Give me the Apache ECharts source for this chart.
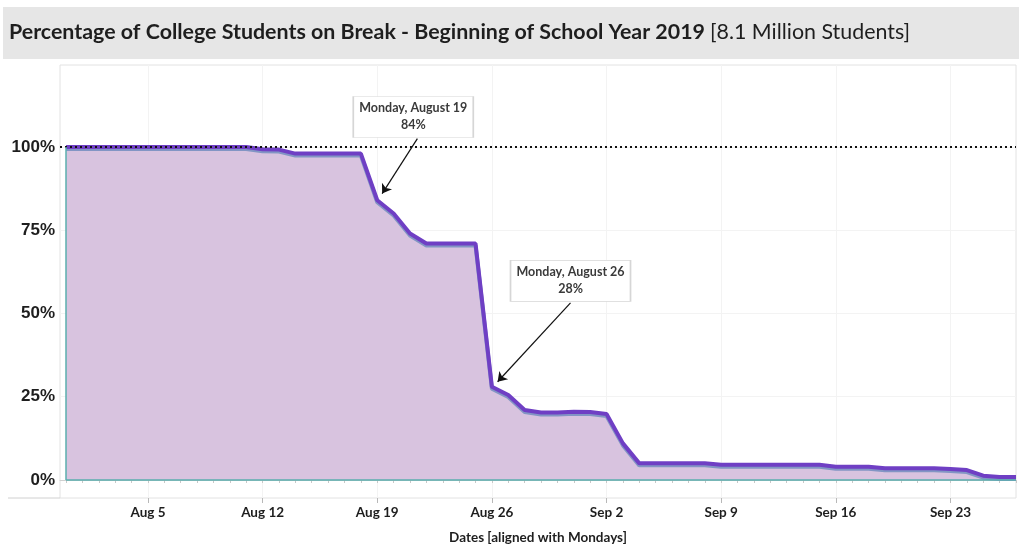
<!DOCTYPE html>
<html>
<head>
<meta charset="utf-8">
<script src="https://cdn.jsdelivr.net/npm/echarts@6/dist/echarts.min.js"></script>
<style>
html,body{margin:0;padding:0;background:#fff;}
#chart{width:1024px;height:553px;}
</style>
</head>
<body>
<div id="chart"></div>
<script>
// Dates (daily, starting Wednesday Jul 31 2019)
const dates = [
 'Jul 31','Aug 1','Aug 2','Aug 3','Aug 4','Aug 5','Aug 6','Aug 7','Aug 8','Aug 9','Aug 10','Aug 11',
 'Aug 12','Aug 13','Aug 14','Aug 15','Aug 16','Aug 17','Aug 18','Aug 19','Aug 20','Aug 21','Aug 22',
 'Aug 23','Aug 24','Aug 25','Aug 26','Aug 27','Aug 28','Aug 29','Aug 30','Aug 31','Sep 1','Sep 2',
 'Sep 3','Sep 4','Sep 5','Sep 6','Sep 7','Sep 8','Sep 9','Sep 10','Sep 11','Sep 12','Sep 13','Sep 14',
 'Sep 15','Sep 16','Sep 17','Sep 18','Sep 19','Sep 20','Sep 21','Sep 22','Sep 23','Sep 24','Sep 25',
 'Sep 26','Sep 27'
];
// Percentage of students on break
const pctOnBreak = [
 100,100,100,100,100,100,100,100,100,100,100,100,
 99.3,99.2,98,98,98,98,98,84,80,74,71,
 71,71,71,28,25.5,21,20.3,20.3,20.5,20.4,19.8,
 11,5,5,5,5,5,4.6,4.6,4.6,4.6,4.6,4.6,
 4.6,4,4,4,3.5,3.5,3.5,3.5,3.3,3,1.3,
 0.9,0.9
];
const mondayLabels = ['Aug 5','Aug 12','Aug 19','Aug 26','Sep 2','Sep 9','Sep 16','Sep 23'];
const yTickValues = [0,25,50,75,100];
const annotations = [
 {date:'Aug 19', title:'Monday, August 19', dx:2.2, dy:25, ax:2.45, ay:18.5, tx:0.3, ty:2},
 {date:'Aug 26', title:'Monday, August 26', dx:4.8, dy:31.8, ax:4.8, ay:25.2, tx:0.35, ty:1.5}
];

const FONT = 'Lato';
const idx = d => dates.indexOf(d);
const seriesData = pctOnBreak.map((v,i)=>[i,v]);
const mondayIdx = mondayLabels.map(idx);
const dayIdx = dates.map((d,i)=>i);
const xMin = -0.37, xMax = dates.length - 1;

const boxPoints = annotations.map(a=>{
  const i = idx(a.date), v = pctOnBreak[i];
  return {
    coord:[i + a.dx, v + a.dy],
    value: a.title,
    label:{formatter: a.title + '\n' + Math.round(v) + '%'}
  };
});
const arrowLines = annotations.map(a=>{
  const i = idx(a.date), v = pctOnBreak[i];
  return [{coord:[i + a.ax, v + a.ay]},{coord:[i + a.tx, v + a.ty]}];
});

const chart = echarts.init(document.getElementById('chart'));
chart.setOption({
  animation:false,
  backgroundColor:'#fff',
  graphic:[
    {type:'rect', shape:{x:3,y:7,width:1016,height:52}, style:{fill:'#e6e6e6'}, silent:true, z:-1},
    {type:'line', shape:{x1:8,y1:498,x2:60,y2:498}, style:{stroke:'#d0d0d0',lineWidth:1}, silent:true}
  ],
  title:{
    left:9, top:22, padding:0,
    text:'{b|Percentage of College Students on Break - Beginning of School Year 2019} {n|[8.1 Million Students]}',
    textStyle:{
      rich:{
        b:{fontFamily:FONT,fontWeight:'bold',fontSize:21.4,color:'#1e1e1e'},
        n:{fontFamily:FONT,fontWeight:'normal',fontSize:21.4,color:'#1e1e1e'}
      }
    }
  },
  grid:{left:60,right:8,top:65,bottom:55,show:true,borderColor:'#e2e2e2',borderWidth:1},
  xAxis:[
    {
      type:'value', min:xMin, max:xMax,
      axisLine:{show:true,lineStyle:{color:'#d0d0d0'}},
      axisTick:{show:true,customValues:dayIdx,length:3,lineStyle:{color:'#c8c8c8'}},
      axisLabel:{show:false},
      splitLine:{show:false},
      name:'Dates [aligned with Mondays]', nameLocation:'middle', nameGap:33,
      nameTextStyle:{fontFamily:FONT,fontWeight:'bold',fontSize:13.5,color:'#1e1e1e'}
    },
    {
      type:'value', min:xMin, max:xMax, position:'bottom',
      axisLine:{show:false},
      axisTick:{show:true,customValues:mondayIdx,length:5,lineStyle:{color:'#b8b8b8'}},
      axisLabel:{show:true,customValues:mondayIdx,margin:8,
        formatter:v=>dates[Math.round(v)],
        fontFamily:FONT,fontWeight:'bold',fontSize:13.5,color:'#1e1e1e'},
      splitLine:{show:true,lineStyle:{color:'#f3f3f3'}}
    }
  ],
  yAxis:{
    type:'value', min:-5.4, max:124.6,
    axisLine:{show:false},
    axisTick:{show:false,customValues:yTickValues},
    axisLabel:{customValues:yTickValues,formatter:'{value}%',margin:5,
      fontFamily:'Liberation Sans',fontWeight:'bold',fontSize:17,color:'#1e1e1e',padding:[3,0,0,0]},
    splitLine:{show:true,lineStyle:{color:'#f3f3f3'}}
  },
  series:[
    {
      type:'line', xAxisIndex:0, data:seriesData, symbol:'none',
      lineStyle:{color:'#6f3fc4',width:4,shadowColor:'#8295c4',shadowOffsetY:2,shadowBlur:0},
      areaStyle:{color:'#d8c3df',opacity:1,origin:'auto'},
      z:3,
      markLine:{
        silent:true, symbol:'none', animation:false,
        label:{show:false},
        data:[
          {yAxis:100, lineStyle:{color:'#111',type:[2,3],width:2}},
          [{coord:[0,0]},{coord:[xMax,0],lineStyle:{color:'#5aaeae',type:'solid',width:1.5}}],
          [{coord:[0,0]},{coord:[0,pctOnBreak[0]],lineStyle:{color:'#5aaeae',type:'solid',width:1.5}}]
        ]
      }
    },
    {
      type:'line', xAxisIndex:0, data:[], symbol:'none',
      markLine:{
        silent:true, symbol:['none','arrow'], symbolSize:9, animation:false,
        label:{show:false},
        lineStyle:{color:'#111',type:'solid',width:1.2},
        data:arrowLines
      },
      markPoint:{
        silent:true, symbol:'rect', symbolSize:[120,41], animation:false,
        itemStyle:{color:'#fff',borderColor:'#d6d6d6',borderWidth:1},
        label:{show:true,position:'inside',fontFamily:FONT,fontWeight:'bold',fontSize:12.5,color:'#3a3a3a',lineHeight:17},
        data:boxPoints
      }
    }
  ]
});
</script>
</body>
</html>
